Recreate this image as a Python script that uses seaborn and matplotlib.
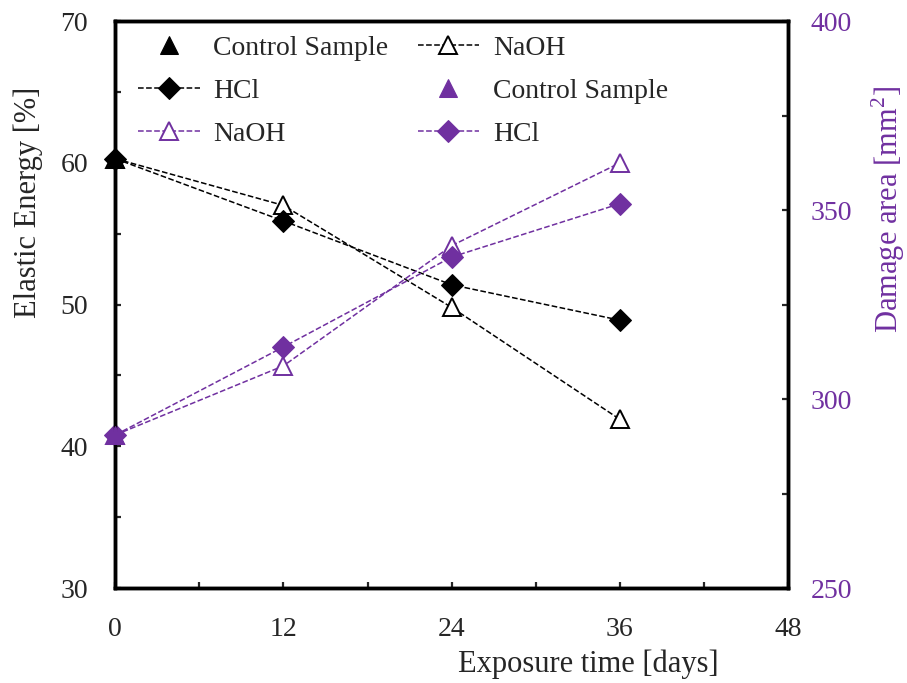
import matplotlib
matplotlib.use("Agg")
import matplotlib.pyplot as plt
import numpy as np
import pandas as pd
import seaborn as sns
from matplotlib.ticker import MultipleLocator

# data
days = [0, 12, 24, 36]
control_day = [0]
energy_control = [60.3]
energy_naoh = [60.3, 57.0, 49.8, 41.9]
energy_hcl = [60.3, 55.9, 51.4, 48.9]
damage_control = [290.5]
damage_naoh = [290.5, 308.8, 340.6, 362.5]
damage_hcl = [290.5, 313.8, 337.6, 351.7]

PURPLE = "#7030A0"
FS = 20
FS_LAB = 22

sns.set_style("ticks")
plt.rcParams["font.family"] = ["Liberation Serif", "DejaVu Serif"]
plt.rcParams["mathtext.fontset"] = "custom"
plt.rcParams["mathtext.rm"] = "Liberation Serif"

fig = plt.figure(figsize=(9.07, 6.83), dpi=100)
ax = fig.add_axes([0.127, 0.139, 0.742, 0.830])
ax2 = ax.twinx()

dash_kw = dict(linestyle="--", linewidth=1.1, dashes=(3.5, 3), clip_on=False)
ctrl_kw = dict(marker="^", markersize=13, linestyle="none", clip_on=False,
               zorder=5)

sns.lineplot(x=control_day, y=energy_control, ax=ax, color="black",
             markerfacecolor="black", markeredgecolor="black",
             label="Control Sample", **ctrl_kw)
sns.lineplot(x=days, y=energy_naoh, ax=ax, color="black", marker="^",
             markersize=13, markerfacecolor="white", markeredgecolor="black",
             markeredgewidth=1.4, label="NaOH", **dash_kw)
sns.lineplot(x=days, y=energy_hcl, ax=ax, color="black", marker="D",
             markersize=11, markerfacecolor="black", markeredgecolor="black",
             label="HCl", **dash_kw)

sns.lineplot(x=control_day, y=damage_control, ax=ax2, color=PURPLE,
             markerfacecolor=PURPLE, markeredgecolor=PURPLE,
             label="Control Sample", **ctrl_kw)
sns.lineplot(x=days, y=damage_naoh, ax=ax2, color=PURPLE, marker="^",
             markersize=13, markerfacecolor="white", markeredgecolor=PURPLE,
             markeredgewidth=1.4, label="NaOH", **dash_kw)
sns.lineplot(x=days, y=damage_hcl, ax=ax2, color=PURPLE, marker="D",
             markersize=11, markerfacecolor=PURPLE, markeredgecolor=PURPLE,
             label="HCl", **dash_kw)

for a in (ax, ax2):
    if a.get_legend() is not None:
        a.get_legend().remove()

ax.set_xlim(0, 48)
ax.set_ylim(30, 70)
ax2.set_ylim(250, 400)
ax.set_xticks([0, 12, 24, 36, 48])
ax.xaxis.set_minor_locator(MultipleLocator(6))
ax.set_yticks([30, 40, 50, 60, 70])
ax.yaxis.set_minor_locator(MultipleLocator(5))
ax2.set_yticks([250, 300, 350, 400])
ax2.yaxis.set_minor_locator(MultipleLocator(25))

for a in (ax, ax2):
    for s in a.spines.values():
        s.set_linewidth(2.5)
        s.set_color("black")
        s.set_visible(True)
    a.tick_params(which="both", direction="in", width=1.6, length=4.5,
                  labelsize=FS)
ax.tick_params(axis="y", pad=19.5)
ax.tick_params(axis="x", pad=20.5)
ax2.tick_params(axis="y", labelcolor=PURPLE, pad=16)

ax.set_xlabel("Exposure time [days]", fontsize=FS_LAB)
ax.xaxis.set_label_coords(0.703, -0.108)
ax.set_ylabel("Elastic Energy [%]", fontsize=FS_LAB)
ax.yaxis.set_label_coords(-0.108, 0.681)
ax2.set_ylabel("Damage area [mm$^2$]", fontsize=FS_LAB, color=PURPLE)
ax2.yaxis.set_label_coords(1.12, 0.668)

h1, l1 = ax.get_legend_handles_labels()
h2, l2 = ax2.get_legend_handles_labels()
# reorder so that ncol=2 reads row by row
hs = [h1[0], h1[2], h2[1], h1[1], h2[0], h2[2]]
ls = [l1[0], l1[2], l2[1], l1[1], l2[0], l2[2]]
ax2.legend(hs, ls, ncol=2, loc="upper left", bbox_to_anchor=(0.018, 0.995),
           frameon=False, fontsize=FS, handlelength=2.2, columnspacing=1.05,
           labelspacing=0.64, handletextpad=0.5, borderaxespad=0.0)

fig.savefig("out.png", dpi=100)
